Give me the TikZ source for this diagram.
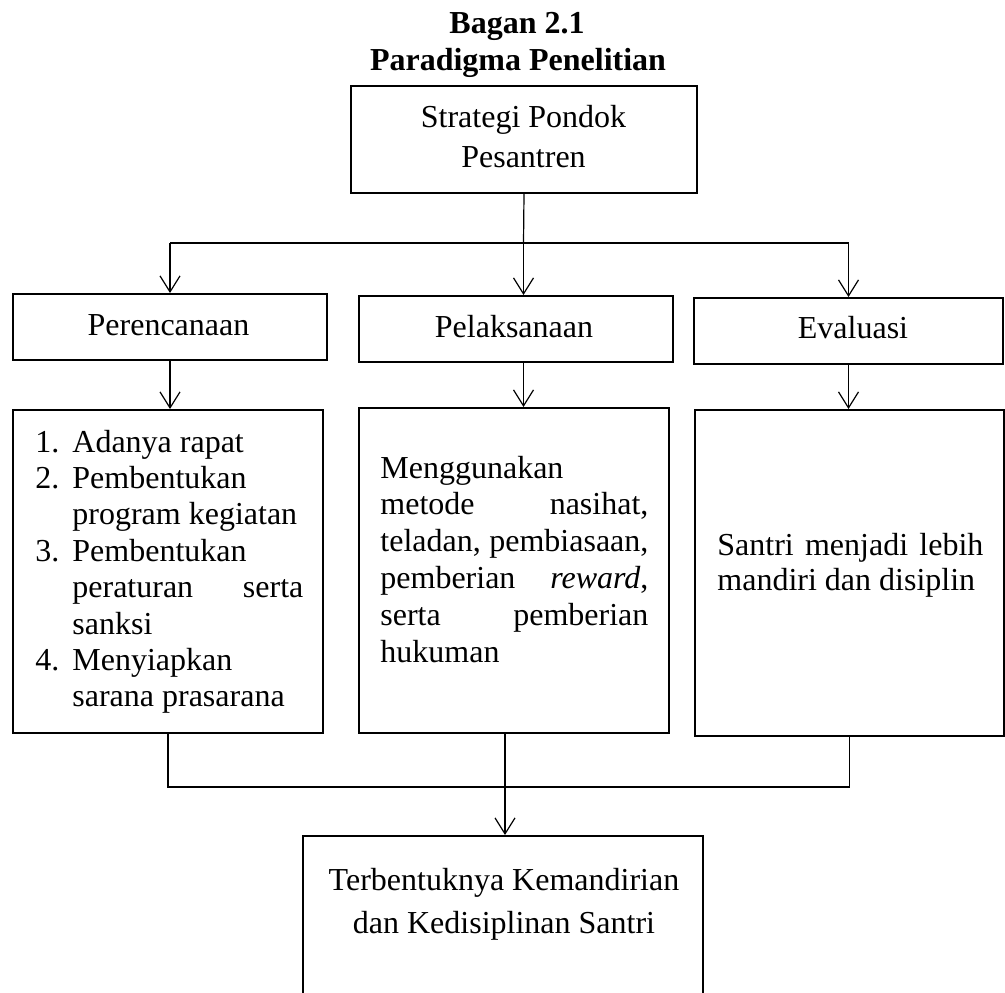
\documentclass[tikz,border=0pt]{standalone}
\usepackage{fontspec}
\setmainfont{Liberation Serif}
\usetikzlibrary{arrows.meta}
\begin{document}
\begin{tikzpicture}[x=0.5pt,y=-0.5pt,
  txt/.style={font=\fontsize{16}{18}\selectfont, inner sep=0pt},
  ttl/.style={font=\bfseries\fontsize{16}{18}\selectfont, inner sep=0pt},
  box/.style={draw, line width=1pt, inner sep=0pt, font=\fontsize{16}{18}\selectfont},
  conn/.style={line width=0.6pt},
  arr/.style={conn, -{Straight Barb[length=8pt,width=10pt]}}]
\useasboundingbox (0,0) rectangle (1005,992);
\clip (0,0) rectangle (1005,992);

% title
\node[ttl, anchor=base] (t1) at (517,33) {Bagan 2.1};
\node[ttl, anchor=base] (t2) at (518,70) {Paradigma Penelitian};

% top box
\node[box, minimum width=173pt, minimum height=53.5pt] (top) at (524,139.5) {};
\node[txt, anchor=base] (topa) at (523.5,127) {Strategi Pondok};
\node[txt, anchor=base] (topb) at (523.5,167) {Pesantren};

% second row
\node[box, minimum width=157pt, minimum height=33pt] (plan) at (170,327) {};
\node[txt, anchor=base] (planT) at (168.5,335) {Perencanaan};
\node[box, minimum width=157pt, minimum height=33pt] (exec) at (516,329) {};
\node[txt, anchor=base] (execT) at (514,337) {Pelaksanaan};
\node[box, minimum width=154.5pt, minimum height=33pt] (eval) at (848.5,331) {};
\node[txt, anchor=base] (evalT) at (853,338) {Evaluasi};

% third row
\node[box, minimum width=155pt, minimum height=161.5pt] (planL) at (168,571.5) {};
\node[box, minimum width=155pt, minimum height=162.5pt] (execL) at (514,570.5) {};
\node[box, minimum width=154.5pt, minimum height=163pt] (evalL) at (849.5,573) {};

% left list
\node[txt, anchor=base west] (n1) at (35,452) {1.};
\node[txt, anchor=base west] (l1) at (72,452) {Adanya rapat};
\node[txt, anchor=base west] (n2) at (35,488.4) {2.};
\node[txt, anchor=base west] (l2) at (72,488.4) {Pembentukan};
\node[txt, anchor=base west] (l3) at (72,524.8) {program kegiatan};
\node[txt, anchor=base west] (n3) at (35,561.2) {3.};
\node[txt, anchor=base west] (l4) at (72,561.2) {Pembentukan};
\node[txt, anchor=base west] (l5) at (72,597.6) {\makebox[115.5pt][s]{peraturan\hfill serta}};
\node[txt, anchor=base west] (l6) at (72,634) {sanksi};
\node[txt, anchor=base west] (n4) at (35,670.4) {4.};
\node[txt, anchor=base west] (l7) at (72,670.4) {Menyiapkan};
\node[txt, anchor=base west] (l8) at (72,706.8) {sarana prasarana};

% middle text
\node[txt, anchor=base west] (m1) at (380,478) {Menggunakan};
\node[txt, anchor=base west] (m2) at (380,514.8) {\makebox[134pt][s]{metode\hfill nasihat,}};
\node[txt, anchor=base west] (m3) at (380,551.6) {\makebox[134pt][s]{teladan,\hfill pembiasaan,}};
\node[txt, anchor=base west] (m4) at (380,588.4) {\makebox[134pt][s]{pemberian\hfill \textit{reward},}};
\node[txt, anchor=base west] (m5) at (380,625.2) {\makebox[134pt][s]{serta\hfill pemberian}};
\node[txt, anchor=base west] (m6) at (380,662) {hukuman};

% right text
\node[txt, anchor=base west] (r1) at (717,555) {\makebox[133pt][s]{Santri\hfill menjadi\hfill lebih}};
\node[txt, anchor=base west] (r2) at (717,590) {mandiri dan disiplin};

% result box
\node[box, minimum width=200pt, minimum height=87pt] (result) at (503,923) {};
\node[txt, anchor=base] (res1) at (504,890) {Terbentuknya Kemandirian};
\node[txt, anchor=base] (res2) at (504,933) {dan Kedisiplinan Santri};

% connectors top
\coordinate (hub) at (523.5,243);
\draw[conn] (top.south) -- (hub);
\draw[conn] (plan.north |- hub) -- (eval.north |- hub);
\draw[arr] (plan.north |- hub) -- (plan.north);
\draw[arr] (hub) -- (hub |- exec.north);
\draw[arr] (eval.north |- hub) -- (eval.north);

% connectors middle
\draw[arr] (plan.south) -- (plan.south |- planL.north);
\draw[arr] (hub |- exec.south) -- (hub |- execL.north);
\draw[arr] (eval.south) -- (eval.south |- evalL.north);

% connectors bottom
\coordinate (join) at (505,787);
\draw[conn] (planL.south) -- (planL.south |- join) -- (evalL.south |- join) -- (evalL.south);
\draw[arr] (join |- execL.south) -- (join |- result.north);
\end{tikzpicture}
\end{document}
